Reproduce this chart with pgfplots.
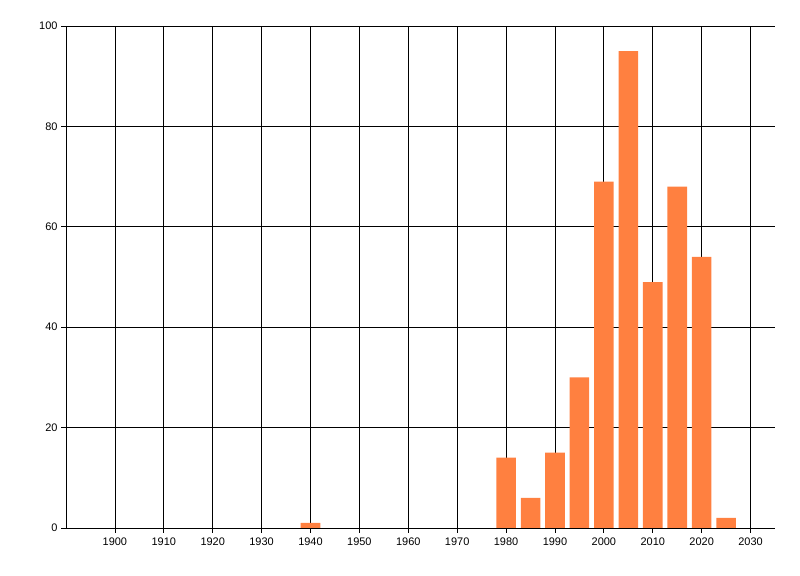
\documentclass[border=0pt]{standalone}
\usepackage{pgfplots}
\pgfplotsset{compat=1.18}
\usepackage{fontspec}
\setmainfont{Liberation Sans}
\definecolor{barc}{HTML}{FF8040}
\begin{document}
\begin{tikzpicture}[x=1bp,y=1bp]
\path[use as bounding box] (0,0) rectangle (800,576);
\begin{axis}[
  at={(66bp,48bp)}, anchor=south west,
  scale only axis, width=709bp, height=502bp,
  xmin=1890, xmax=2035, ymin=0, ymax=100,
  axis x line*=bottom, axis y line*=left,
  axis line style={black, line width=0.8pt, -},
  xtick={1900,1910,...,2030},
  ytick={0,20,...,100},
  grid=major, major grid style={black, line width=0.8pt},
  tick style={black, line width=0.8pt},
  xtick align=outside, ytick align=outside,
  major tick length=5bp,
  /pgf/number format/assume math mode=true,
  xticklabel style={/pgf/number format/1000 sep={}, font=\fontsize{11}{13}\selectfont, yshift=-1bp},
  yticklabel style={font=\fontsize{11}{13}\selectfont},
  ybar, bar width=4, bar shift=0pt,
]
\addplot[fill=barc, draw=none] coordinates {
(1940,1) (1980,14) (1985,6) (1990,15) (1995,30) (2000,69) (2005,95) (2010,49) (2015,68) (2020,54) (2025,2)
};
\end{axis}
\end{tikzpicture}
\end{document}
